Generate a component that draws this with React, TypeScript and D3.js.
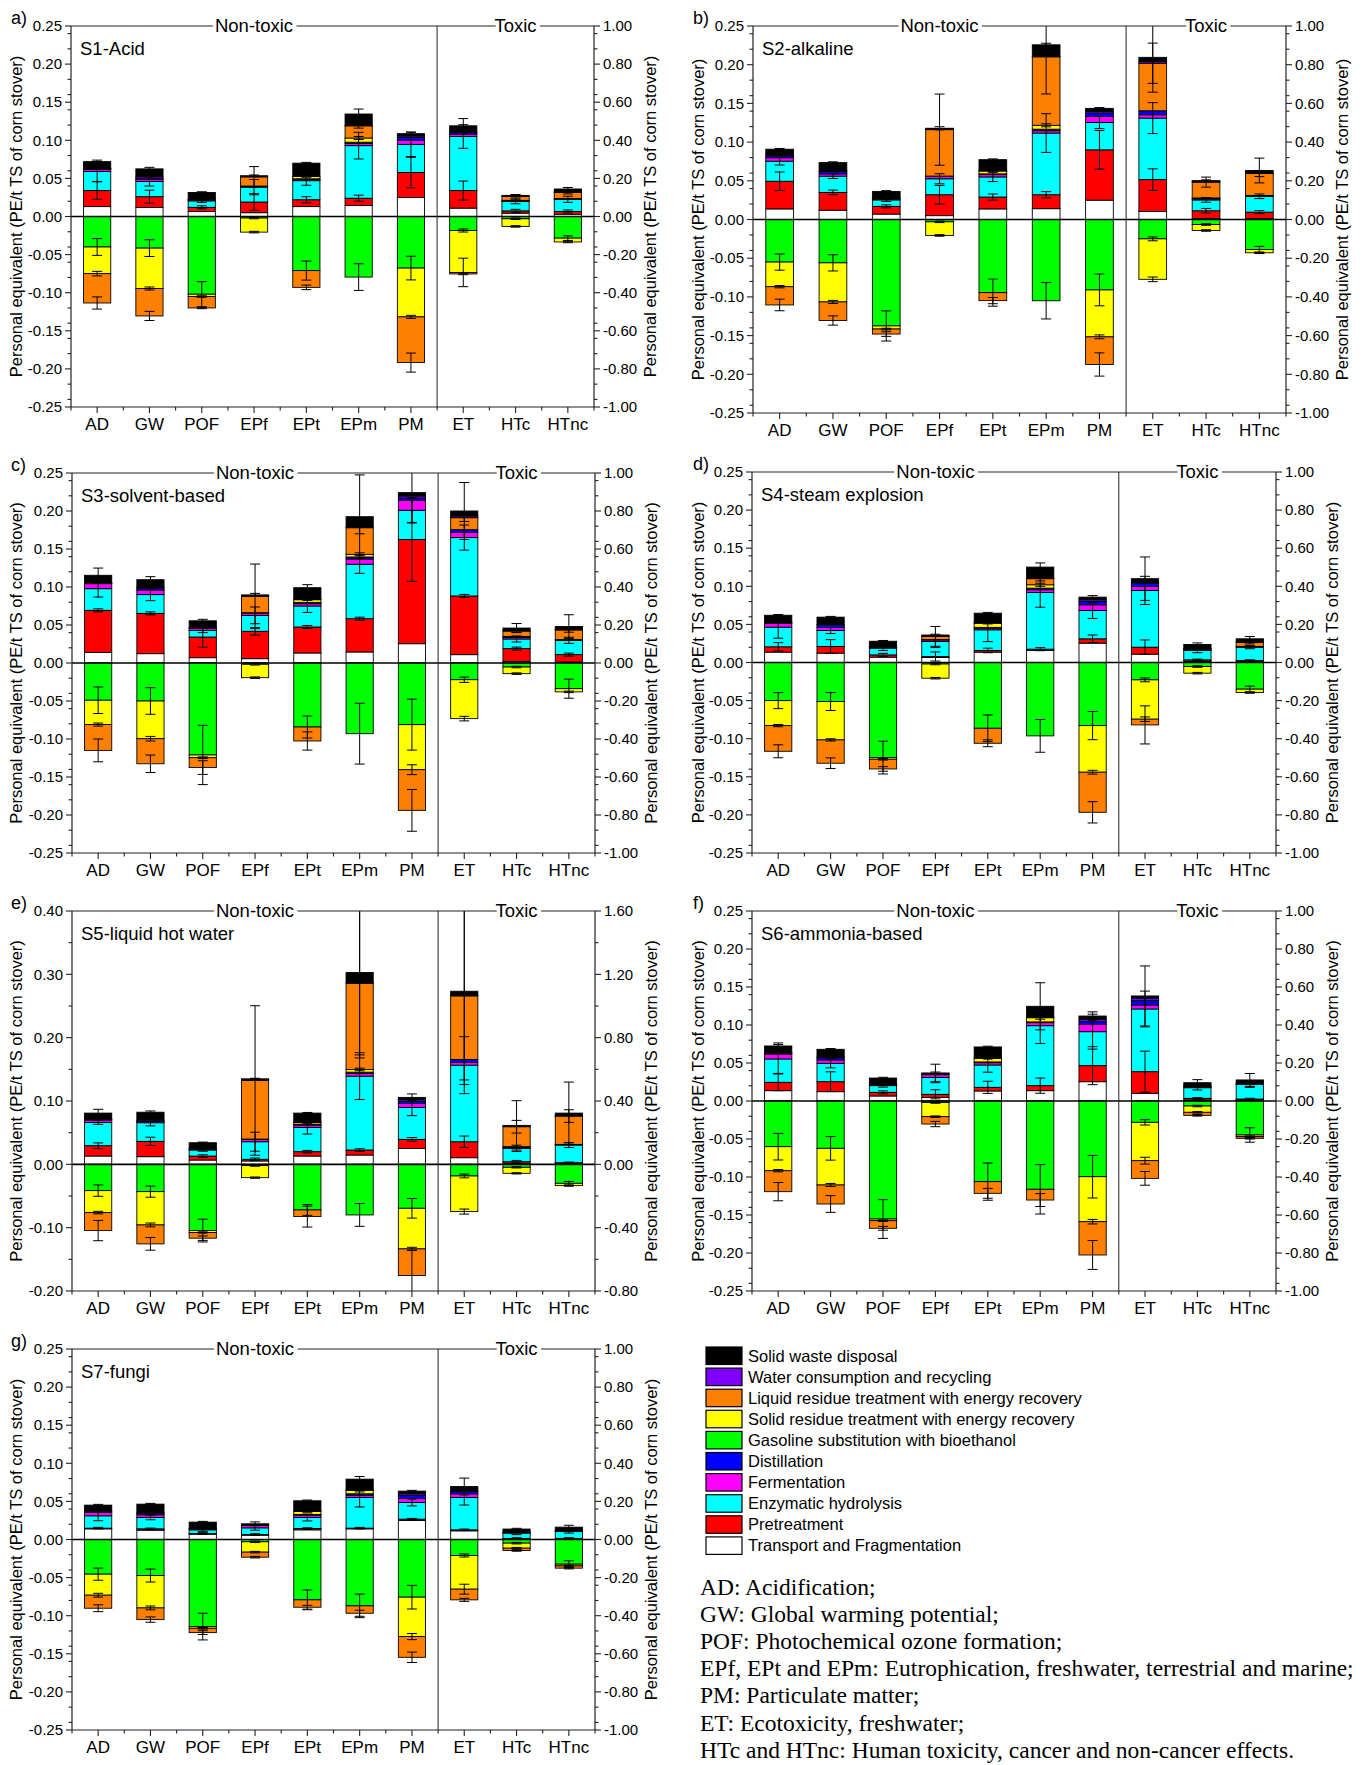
import React from 'react';
import * as d3 from 'd3';

// Impact categories on the x axis
const categories = ['AD', 'GW', 'POF', 'EPf', 'EPt', 'EPm', 'PM', 'ET', 'HTc', 'HTnc'];

// Process contributions, in stacking order
const seriesKeys = [
  'transport', 'pretreatment', 'enzymatic', 'fermentation', 'distillation',
  'gasoline', 'solidResidue', 'liquidResidue', 'water', 'solidWaste',
];
const seriesLabels = [
  'Transport and Fragmentation', 'Pretreatment', 'Enzymatic hydrolysis', 'Fermentation', 'Distillation',
  'Gasoline substitution with bioethanol', 'Solid residue treatment with energy recovery',
  'Liquid residue treatment with energy recovery', 'Water consumption and recycling', 'Solid waste disposal',
];
const seriesColors = [
  '#FFFFFF', '#FF0000', '#00FFFF', '#FF00FF', '#0000FF',
  '#00FF00', '#FFFF00', '#FF8000', '#8000FF', '#000000',
];

// Contributions that carry an uncertainty bar
const errorKeys = ['pretreatment', 'enzymatic', 'gasoline', 'solidResidue', 'liquidResidue', 'solidWaste'];

const groupLabels = ['Non-toxic', 'Toxic'];
const axisTitle = 'Personal equivalent (PE/t TS of corn stover)';

const abbreviationNotes = [
  'AD: Acidification;',
  'GW: Global warming potential;',
  'POF: Photochemical ozone formation;',
  'EPf, EPt and EPm: Eutrophication, freshwater, terrestrial and marine;',
  'PM: Particulate matter;',
  'ET: Ecotoxicity, freshwater;',
  'HTc and HTnc: Human toxicity, cancer and non-cancer effects.',
];

// S1 – acid pretreatment (rows follow seriesKeys, columns follow categories)
const s1Values = [
  [0.013, 0.012, 0.0065, 0.005, 0.013, 0.0145, 0.025, 0.011, 0.0044, 0.003],
  [0.021, 0.014, 0.0055, 0.014, 0.009, 0.0095, 0.0327, 0.023, 0.003, 0.0036],
  [0.025, 0.020, 0.0085, 0.0195, 0.025, 0.069, 0.037, 0.071, 0.0123, 0.016],
  [0.003, 0.003, 0.001, 0.001, 0.002, 0.003, 0.0055, 0.003, 0.001, 0.0005],
  [0.0005, 0.0005, 0.0005, 0.0005, 0.0005, 0.0015, 0.0035, 0.0025, 0.0005, 0.0005],
  [-0.040, -0.0415, -0.102, -0.002, -0.071, -0.0795, -0.0677, -0.0184, -0.003, -0.0284],
  [-0.035, -0.053, -0.003, -0.0185, 0.003, 0.0055, -0.064, -0.055, -0.010, -0.005],
  [-0.0385, -0.036, -0.015, 0.012, -0.022, 0.016, -0.060, -0.002, 0.005, 0.008],
  [0.0005, 0.0025, 0.0005, 0.0005, 0.0005, 0.0005, 0.002, 0.0005, 0.0005, 0.0005],
  [0.009, 0.0105, 0.009, 0.001, 0.017, 0.015, 0.003, 0.008, 0.001, 0.004],
];
const s1Errors = [
  [0.0115, 0.0085, 0.002, 0.011, 0.004, 0.004, 0.02, 0.0125, 0.002, 0.002],
  [0.013, 0.006, 0.002, 0.01, 0.006, 0.0175, 0.016, 0.0155, 0.003, 0.004],
  [0.011, 0.011, 0.0165, 0.001, 0.0125, 0.0175, 0.0155, 0.002, 0.001, 0.003],
  [0.003, 0.002, 0.001, 0.001, 0.001, 0.002, 0.002, 0.0187, 0.001, 0.001],
  [0.008, 0.006, 0.001, 0.0135, 0.003, 0.003, 0.0125, 0.001, 0.002, 0.002],
  [0.002, 0.002, 0.001, 0.001, 0.001, 0.0065, 0.002, 0.0095, 0.001, 0.002],
];

// S2 – alkaline pretreatment
const s2Values = [
  [0.0137, 0.012, 0.007, 0.005, 0.0137, 0.014, 0.025, 0.0103, 0.0013, 0.0013],
  [0.0357, 0.023, 0.010, 0.027, 0.0153, 0.018, 0.065, 0.0412, 0.010, 0.0082],
  [0.026, 0.021, 0.0083, 0.0206, 0.026, 0.0797, 0.0354, 0.0795, 0.014, 0.0205],
  [0.0044, 0.003, 0.001, 0.003, 0.003, 0.003, 0.0077, 0.0043, 0.0015, 0.0005],
  [0.0025, 0.003, 0.0005, 0.0005, 0.001, 0.002, 0.0045, 0.0052, 0.001, 0.0005],
  [-0.055, -0.056, -0.1375, -0.003, -0.0945, -0.105, -0.091, -0.025, -0.0065, -0.0387],
  [-0.0318, -0.0505, -0.004, -0.0176, 0.0036, 0.005, -0.0606, -0.0523, -0.0077, -0.0043],
  [-0.0236, -0.024, -0.0065, 0.060, -0.0103, 0.0885, -0.0357, 0.0614, 0.0205, 0.0284],
  [0.0013, 0.0005, 0.0005, 0.0005, 0.001, 0.0005, 0.002, 0.002, 0.0005, 0.0005],
  [0.0072, 0.011, 0.009, 0.0013, 0.0137, 0.015, 0.004, 0.0056, 0.0014, 0.0034],
];
const s2Errors = [
  [0.012, 0.003, 0.002, 0.012, 0.004, 0.004, 0.025, 0.014, 0.003, 0.002],
  [0.005, 0.003, 0.002, 0.0065, 0.006, 0.025, 0.008, 0.02, 0.003, 0.003],
  [0.0105, 0.0105, 0.0195, 0.001, 0.0175, 0.0235, 0.0205, 0.0025, 0.001, 0.004],
  [0.0015, 0.002, 0.001, 0.001, 0.001, 0.002, 0.0025, 0.003, 0.001, 0.001],
  [0.0075, 0.006, 0.003, 0.046, 0.004, 0.048, 0.015, 0.026, 0.0065, 0.004],
  [0.001, 0.001, 0.001, 0.002, 0.001, 0.002, 0.001, 0.045, 0.001, 0.016],
];

// S3 – solvent-based pretreatment
const s3Values = [
  [0.014, 0.0123, 0.007, 0.0057, 0.0132, 0.0145, 0.0254, 0.011, 0.0022, 0.0013],
  [0.0553, 0.053, 0.0272, 0.036, 0.0342, 0.0438, 0.137, 0.0772, 0.0167, 0.0097],
  [0.0285, 0.0247, 0.0088, 0.021, 0.0276, 0.0717, 0.0386, 0.0768, 0.0127, 0.0188],
  [0.0066, 0.006, 0.0026, 0.003, 0.003, 0.0068, 0.0131, 0.007, 0.002, 0.0005],
  [0.0005, 0.0027, 0.0005, 0.0005, 0.0018, 0.0027, 0.003, 0.0034, 0.0014, 0.0005],
  [-0.049, -0.05, -0.121, -0.0017, -0.0842, -0.093, -0.0811, -0.022, -0.0053, -0.0338],
  [-0.032, -0.0496, -0.0036, -0.0176, 0.0035, 0.0035, -0.0593, -0.0512, -0.0087, -0.0042],
  [-0.034, -0.033, -0.013, 0.0215, -0.0184, 0.035, -0.0535, 0.0158, 0.007, 0.0127],
  [0.0005, 0.0005, 0.0005, 0.001, 0.0005, 0.0005, 0.0027, 0.0022, 0.0005, 0.0005],
  [0.0100, 0.0104, 0.0089, 0.0009, 0.0153, 0.014, 0.0044, 0.0066, 0.0035, 0.004],
];
const s3Errors = [
  [0.002, 0.002, 0.0135, 0.005, 0.002, 0.002, 0.055, 0.002, 0.002, 0.002],
  [0.011, 0.008, 0.003, 0.011, 0.0085, 0.012, 0.016, 0.0165, 0.004, 0.004],
  [0.0175, 0.0175, 0.039, 0.001, 0.0145, 0.04, 0.0335, 0.0035, 0.001, 0.0125],
  [0.002, 0.003, 0.001, 0.001, 0.001, 0.002, 0.0065, 0.003, 0.001, 0.001],
  [0.015, 0.0115, 0.009, 0.0425, 0.012, 0.008, 0.0275, 0.005, 0.002, 0.003],
  [0.0095, 0.004, 0.002, 0.002, 0.004, 0.055, 0.04, 0.0375, 0.006, 0.0155],
];

// S4 – steam explosion
const s4Values = [
  [0.0136, 0.0123, 0.007, 0.0066, 0.0136, 0.0158, 0.0254, 0.011, 0.0013, 0.0013],
  [0.007, 0.0087, 0.003, 0.0013, 0.0022, 0.0017, 0.0057, 0.0091, 0.0022, 0.0013],
  [0.0258, 0.021, 0.0088, 0.0197, 0.0271, 0.0745, 0.0372, 0.0745, 0.0123, 0.0175],
  [0.0053, 0.004, 0.001, 0.002, 0.0022, 0.0035, 0.0074, 0.0052, 0.001, 0.0005],
  [0.0005, 0.0035, 0.0005, 0.0005, 0.001, 0.0021, 0.0043, 0.0044, 0.0007, 0.0005],
  [-0.05, -0.0512, -0.1248, -0.002, -0.0863, -0.0963, -0.0828, -0.0228, -0.0053, -0.035],
  [-0.0328, -0.0504, -0.0022, -0.0186, 0.0055, 0.0044, -0.0612, -0.0516, -0.0087, -0.0044],
  [-0.0337, -0.0306, -0.0127, 0.0042, -0.0197, 0.008, -0.0526, -0.0075, 0.0005, 0.0053],
  [0.0005, 0.0005, 0.001, 0.0005, 0.0005, 0.0005, 0.0023, 0.001, 0.0005, 0.0005],
  [0.0093, 0.0095, 0.0066, 0.0013, 0.0126, 0.0147, 0.0035, 0.0048, 0.0052, 0.0042],
];
const s4Errors = [
  [0.0055, 0.009, 0.002, 0.006, 0.003, 0.002, 0.005, 0.0095, 0.001, 0.001],
  [0.0145, 0.004, 0.003, 0.008, 0.0155, 0.0195, 0.0105, 0.0185, 0.003, 0.002],
  [0.0105, 0.0118, 0.0215, 0.001, 0.0175, 0.0215, 0.0185, 0.0025, 0.001, 0.004],
  [0.0015, 0.0015, 0.001, 0.001, 0.001, 0.002, 0.0025, 0.003, 0.001, 0.001],
  [0.0085, 0.007, 0.003, 0.013, 0.0045, 0.003, 0.014, 0.025, 0.001, 0.002],
  [0.001, 0.001, 0.001, 0.001, 0.001, 0.0055, 0.002, 0.0285, 0.002, 0.003],
];

// S5 – liquid hot water
const s5Values = [
  [0.0131, 0.0121, 0.0068, 0.0053, 0.0131, 0.0147, 0.0252, 0.0105, 0.0016, 0.0016],
  [0.0163, 0.0242, 0.0063, 0.0026, 0.0069, 0.0079, 0.0142, 0.0252, 0.0026, 0.001],
  [0.0368, 0.0294, 0.0095, 0.0278, 0.0383, 0.1167, 0.0505, 0.1209, 0.021, 0.0279],
  [0.0038, 0.002, 0.001, 0.0037, 0.0037, 0.0042, 0.0063, 0.0042, 0.0017, 0.0005],
  [0.0005, 0.0005, 0.0005, 0.0005, 0.001, 0.002, 0.0037, 0.0048, 0.001, 0.0005],
  [-0.0415, -0.0431, -0.1046, -0.002, -0.072, -0.0799, -0.0694, -0.0184, -0.0047, -0.03],
  [-0.0347, -0.0526, -0.003, -0.019, 0.0027, 0.0043, -0.0641, -0.0562, -0.0095, -0.0036],
  [-0.0284, -0.0299, -0.009, 0.0925, -0.0105, 0.1362, -0.0421, 0.1004, 0.0315, 0.0447],
  [0.001, 0.002, 0.0005, 0.002, 0.0005, 0.0005, 0.0026, 0.001, 0.0005, 0.0005],
  [0.0094, 0.0121, 0.0095, 0.0005, 0.0147, 0.0163, 0.0032, 0.0063, 0.0016, 0.0042],
];
const s5Errors = [
  [0.0045, 0.0065, 0.002, 0.002, 0.002, 0.002, 0.003, 0.009, 0.002, 0.001],
  [0.003, 0.005, 0.002, 0.015, 0.0105, 0.037, 0.013, 0.045, 0.005, 0.004],
  [0.009, 0.0088, 0.018, 0.001, 0.0085, 0.018, 0.0155, 0.003, 0.001, 0.003],
  [0.002, 0.003, 0.001, 0.001, 0.001, 0.002, 0.0025, 0.004, 0.001, 0.001],
  [0.016, 0.01, 0.0035, 0.118, 0.0165, 0.118, 0.04, 0.14, 0.01, 0.01],
  [0.006, 0.002, 0.001, 0.001, 0.001, 0.13, 0.0055, 0.14, 0.039, 0.049],
];

// S6 – ammonia-based pretreatment
const s6Values = [
  [0.0136, 0.0123, 0.0066, 0.0048, 0.0132, 0.0136, 0.0254, 0.0101, 0.0013, 0.0013],
  [0.011, 0.0131, 0.0048, 0.004, 0.0048, 0.0066, 0.0211, 0.0285, 0.0022, 0.0013],
  [0.0307, 0.0242, 0.0088, 0.0223, 0.0294, 0.0789, 0.0447, 0.0825, 0.014, 0.0193],
  [0.0065, 0.0044, 0.001, 0.0035, 0.003, 0.004, 0.0097, 0.0052, 0.001, 0.0005],
  [0.001, 0.003, 0.0005, 0.0005, 0.001, 0.001, 0.0035, 0.0057, 0.001, 0.0005],
  [-0.0601, -0.0623, -0.1553, -0.002, -0.1061, -0.1162, -0.0996, -0.0281, -0.0066, -0.0447],
  [-0.0316, -0.0482, -0.0022, -0.0186, 0.0047, 0.0055, -0.0592, -0.0504, -0.0083, -0.0022],
  [-0.0276, -0.025, -0.01, -0.0097, -0.0154, -0.0141, -0.0438, -0.0233, -0.004, -0.0022],
  [0.0005, 0.0005, 0.001, 0.0005, 0.0005, 0.0005, 0.0031, 0.0031, 0.0005, 0.0005],
  [0.0091, 0.0105, 0.0075, 0.0013, 0.0145, 0.0145, 0.0043, 0.0031, 0.0041, 0.0043],
];
const s6Errors = [
  [0.011, 0.013, 0.002, 0.006, 0.008, 0.01, 0.025, 0.027, 0.001, 0.001],
  [0.019, 0.006, 0.002, 0.007, 0.0095, 0.0235, 0.023, 0.0235, 0.003, 0.004],
  [0.0175, 0.0155, 0.0255, 0.001, 0.0245, 0.0325, 0.028, 0.0035, 0.001, 0.0095],
  [0.0015, 0.002, 0.001, 0.001, 0.001, 0.002, 0.003, 0.0045, 0.001, 0.001],
  [0.012, 0.011, 0.0025, 0.0035, 0.0065, 0.0085, 0.019, 0.009, 0.001, 0.001],
  [0.004, 0.001, 0.001, 0.0115, 0.001, 0.031, 0.0055, 0.0395, 0.004, 0.0085],
];

// S7 – fungal pretreatment
const s7Values = [
  [0.014, 0.0123, 0.007, 0.0057, 0.0127, 0.014, 0.025, 0.0114, 0.0009, 0.0009],
  [0.0009, 0.0017, 0.0009, 0.0009, 0.0017, 0.0009, 0.0017, 0.0013, 0.0005, 0.0005],
  [0.0162, 0.0149, 0.0048, 0.0087, 0.0145, 0.0403, 0.0219, 0.0425, 0.007, 0.009],
  [0.0044, 0.0035, 0.001, 0.0031, 0.0031, 0.003, 0.0053, 0.0048, 0.0005, 0.0005],
  [0.0017, 0.0022, 0.0005, 0.0005, 0.001, 0.0018, 0.0039, 0.003, 0.0005, 0.0005],
  [-0.0455, -0.0473, -0.1143, -0.003, -0.0792, -0.0871, -0.0757, -0.021, -0.0048, -0.0324],
  [-0.0276, -0.0425, -0.0022, -0.0136, 0.0038, 0.0044, -0.0517, -0.0442, -0.0066, -0.0022],
  [-0.0171, -0.0153, -0.0057, -0.0066, -0.0097, -0.0097, -0.0272, -0.014, -0.003, -0.003],
  [0.0005, 0.0005, 0.0005, 0.0005, 0.0005, 0.0005, 0.0022, 0.001, 0.0005, 0.0005],
  [0.0074, 0.0113, 0.0081, 0.0012, 0.0135, 0.0143, 0.0035, 0.0056, 0.0038, 0.0043],
];
const s7Errors = [
  [0.001, 0.001, 0.001, 0.001, 0.001, 0.001, 0.001, 0.001, 0.001, 0.001],
  [0.0065, 0.003, 0.002, 0.003, 0.0045, 0.0125, 0.0045, 0.01, 0.002, 0.002],
  [0.008, 0.0085, 0.0175, 0.001, 0.013, 0.0155, 0.0155, 0.002, 0.001, 0.0045],
  [0.0025, 0.0025, 0.001, 0.001, 0.001, 0.002, 0.004, 0.0065, 0.001, 0.001],
  [0.0045, 0.0035, 0.0025, 0.001, 0.0025, 0.004, 0.0068, 0.002, 0.001, 0.001],
  [0.001, 0.001, 0.001, 0.0025, 0.001, 0.0035, 0.001, 0.011, 0.001, 0.0025],
];

type Box = { l: number; r: number; t: number; b: number };
type PanelSpec = {
  tag: string;
  title: string;
  values: number[][];
  errors: number[][];
  domain: [number, number];
  majorCount: number;
  minorCount: number;
  ox: number;
  box: Box;
};

const panels: PanelSpec[] = [
  { tag: 'a)', title: 'S1-Acid', values: s1Values, errors: s1Errors, domain: [-0.25, 0.25], majorCount: 10, minorCount: 20, ox: 0, box: { l: 71, r: 594, t: 26, b: 407 } },
  { tag: 'b)', title: 'S2-alkaline', values: s2Values, errors: s2Errors, domain: [-0.25, 0.25], majorCount: 10, minorCount: 20, ox: 682, box: { l: 753, r: 1286, t: 26, b: 413 } },
  { tag: 'c)', title: 'S3-solvent-based', values: s3Values, errors: s3Errors, domain: [-0.25, 0.25], majorCount: 10, minorCount: 20, ox: 0, box: { l: 72, r: 595, t: 473, b: 853 } },
  { tag: 'd)', title: 'S4-steam explosion', values: s4Values, errors: s4Errors, domain: [-0.25, 0.25], majorCount: 10, minorCount: 20, ox: 682, box: { l: 752, r: 1276, t: 472, b: 853 } },
  { tag: 'e)', title: 'S5-liquid hot water', values: s5Values, errors: s5Errors, domain: [-0.2, 0.4], majorCount: 6, minorCount: 12, ox: 0, box: { l: 72, r: 595, t: 911, b: 1291 } },
  { tag: 'f)', title: 'S6-ammonia-based', values: s6Values, errors: s6Errors, domain: [-0.25, 0.25], majorCount: 10, minorCount: 20, ox: 682, box: { l: 752, r: 1276, t: 911, b: 1291 } },
  { tag: 'g)', title: 'S7-fungi', values: s7Values, errors: s7Errors, domain: [-0.25, 0.25], majorCount: 10, minorCount: 20, ox: 0, box: { l: 72, r: 595, t: 1349, b: 1730 } },
];

const SANS = "'Liberation Sans', Arial, Helvetica, sans-serif";
const SERIF = "'Liberation Serif', 'Times New Roman', Times, serif";
const AXIS = '#222';
// right axis reads four times the left axis
const RIGHT_FACTOR = 4;

function fmt(v: number) {
  const r = Math.round(v * 100) / 100;
  return (Object.is(r, -0) ? 0 : r).toFixed(2);
}

function Panel({ p }: { p: PanelSpec }) {
  const { l, r, t, b } = p.box;
  const x = d3.scaleBand<string>().domain(categories).range([l, r]).padding(0);
  const y = d3.scaleLinear().domain(p.domain).range([b, t]);
  const band = x.bandwidth();
  const barW = band * 0.52;
  const cx = (c: string) => (x(c) as number) + band / 2;

  const rows = categories.map((c, j) => {
    const o: Record<string, number | string> = { cat: c };
    seriesKeys.forEach((k, i) => { o[k] = p.values[i][j]; });
    return o;
  });
  const stacked = d3.stack<any>().keys(seriesKeys).offset(d3.stackOffsetDiverging)(rows as any);

  const majors = y.ticks(p.majorCount);
  const minors = y.ticks(p.minorCount).filter((v) => !majors.some((m) => Math.abs(m - v) < 1e-9));
  const divX = x('ET') as number;
  const clipId = `plot-clip-${p.tag.charAt(0)}`;
  const midY = (t + b) / 2;
  const bottomEdges = d3.range(categories.length + 1).map((i) => l + i * band);

  return (
    <g>
      <defs>
        <clipPath id={clipId}>
          <rect x={l} y={t} width={r - l} height={b - t} />
        </clipPath>
      </defs>

      {/* stacked contributions */}
      <g clipPath={`url(#${clipId})`}>
        {stacked.map((s, i) =>
          s.map((d, j) => {
            const h = y(d[0]) - y(d[1]);
            if (Math.abs(d[1] - d[0]) < 1e-12) return null;
            return (
              <rect
                key={`${i}-${j}`}
                x={cx(categories[j]) - barW / 2}
                y={y(d[1])}
                width={barW}
                height={Math.max(h, 0.01)}
                fill={seriesColors[i]}
                stroke="#000"
                strokeWidth={0.9}
              />
            );
          })
        )}
        {/* zero line */}
        <line x1={l} x2={r} y1={y(0)} y2={y(0)} stroke="#000" strokeWidth={1.7} />
        {/* uncertainty bars */}
        {errorKeys.map((k, ei) => {
          const si = seriesKeys.indexOf(k);
          return categories.map((c, j) => {
            const err = p.errors[ei][j];
            const v = p.values[si][j];
            if (!err || !v) return null;
            const d = stacked[si][j];
            const end = v >= 0 ? d[1] : d[0];
            const yHi = y(end + err);
            const yLo = y(end - err);
            const xc = cx(c);
            return (
              <g key={`e-${ei}-${j}`} stroke="#000" strokeWidth={1}>
                <line x1={xc} x2={xc} y1={yHi} y2={yLo} />
                <line x1={xc - 5} x2={xc + 5} y1={yHi} y2={yHi} />
                <line x1={xc - 5} x2={xc + 5} y1={yLo} y2={yLo} />
              </g>
            );
          });
        })}
      </g>

      {/* frame */}
      <line x1={l} x2={l} y1={t} y2={b} stroke={AXIS} strokeWidth={1.2} />
      <line x1={r} x2={r} y1={t} y2={b} stroke={AXIS} strokeWidth={1.2} />
      <line x1={l} x2={r} y1={b} y2={b} stroke={AXIS} strokeWidth={1.2} />
      <line x1={l} x2={r} y1={t} y2={t} stroke={AXIS} strokeWidth={1.2} />
      <line x1={divX} x2={divX} y1={t} y2={b} stroke={AXIS} strokeWidth={1} />

      {/* group headings sitting on the top edge */}
      {[(l + divX) / 2, (divX + r) / 2].map((gx, gi) => (
        <text
          key={`g-${gi}`}
          x={gx}
          y={t}
          dy="0.35em"
          textAnchor="middle"
          fontFamily={SANS}
          fontSize={18.5}
          fill="#000"
          stroke="#fff"
          strokeWidth={7}
          paintOrder="stroke"
        >
          {groupLabels[gi]}
        </text>
      ))}

      {/* left axis */}
      {majors.map((v) => (
        <g key={`lm-${v}`}>
          <line x1={l - 6} x2={l} y1={y(v)} y2={y(v)} stroke={AXIS} strokeWidth={1.1} />
          <text x={l - 9} y={y(v)} dy="0.35em" textAnchor="end" fontFamily={SANS} fontSize={15} fill="#000">
            {fmt(v)}
          </text>
        </g>
      ))}
      {minors.map((v) => (
        <line key={`ln-${v}`} x1={l - 3.5} x2={l} y1={y(v)} y2={y(v)} stroke={AXIS} strokeWidth={1.1} />
      ))}

      {/* right axis, same tick positions as the left one */}
      {majors.map((v) => (
        <g key={`rm-${v}`}>
          <line x1={r} x2={r + 6} y1={y(v)} y2={y(v)} stroke={AXIS} strokeWidth={1.1} />
          <text x={r + 9} y={y(v)} dy="0.35em" textAnchor="start" fontFamily={SANS} fontSize={15} fill="#000">
            {fmt(v * RIGHT_FACTOR)}
          </text>
        </g>
      ))}
      {minors.map((v) => (
        <line key={`rn-${v}`} x1={r} x2={r + 3.5} y1={y(v)} y2={y(v)} stroke={AXIS} strokeWidth={1.1} />
      ))}

      {/* bottom axis */}
      {categories.map((c) => (
        <g key={`bx-${c}`}>
          <line x1={cx(c)} x2={cx(c)} y1={b} y2={b + 6} stroke={AXIS} strokeWidth={1.1} />
          <text x={cx(c)} y={b + 23} textAnchor="middle" fontFamily={SANS} fontSize={17} fill="#000">
            {c}
          </text>
        </g>
      ))}
      {bottomEdges.map((ex, i) => (
        <line key={`be-${i}`} x1={ex} x2={ex} y1={b} y2={b + 3.5} stroke={AXIS} strokeWidth={1.1} />
      ))}

      {/* axis titles */}
      <text
        transform={`translate(${p.ox + 16},${midY}) rotate(-90)`}
        textAnchor="middle"
        dy="0.35em"
        fontFamily={SANS}
        fontSize={16.5}
        fill="#000"
      >
        {axisTitle}
      </text>
      <text
        transform={`translate(${r + 56},${midY}) rotate(-90)`}
        textAnchor="middle"
        dy="0.35em"
        fontFamily={SANS}
        fontSize={16.5}
        fill="#000"
      >
        {axisTitle}
      </text>

      {/* scenario name and panel tag */}
      <text x={l + 9} y={t + 29} fontFamily={SANS} fontSize={18.5} fill="#000">
        {p.title}
      </text>
      <text x={p.ox + 11} y={t - 2} fontFamily={SANS} fontSize={18} fill="#000">
        {p.tag}
      </text>
    </g>
  );
}

function Legend() {
  const order = d3.range(seriesKeys.length).reverse();
  const x0 = 706;
  const y0 = 1347;
  const step = 21.1;
  return (
    <g>
      {order.map((si, i) => (
        <g key={`lg-${si}`}>
          <rect x={x0} y={y0 + i * step} width={36} height={17.5} fill={seriesColors[si]} stroke="#000" strokeWidth={1.2} />
          <text x={x0 + 42} y={y0 + i * step + 14.5} fontFamily={SANS} fontSize={16.5} fill="#000">
            {seriesLabels[si]}
          </text>
        </g>
      ))}
      {abbreviationNotes.map((n, i) => (
        <text key={`nt-${i}`} x={700} y={1595 + i * 27.1} fontFamily={SERIF} fontSize={23.5} fill="#000">
          {n}
        </text>
      ))}
    </g>
  );
}

export default function App() {
  return (
    <svg
      width={1364}
      height={1765}
      viewBox="0 0 1364 1765"
      style={{ position: 'absolute', left: 0, top: 0, display: 'block', background: '#fff' }}
    >
      <rect x={0} y={0} width={1364} height={1765} fill="#fff" />
      {panels.map((p) => (
        <Panel key={p.tag} p={p} />
      ))}
      <Legend />
    </svg>
  );
}
